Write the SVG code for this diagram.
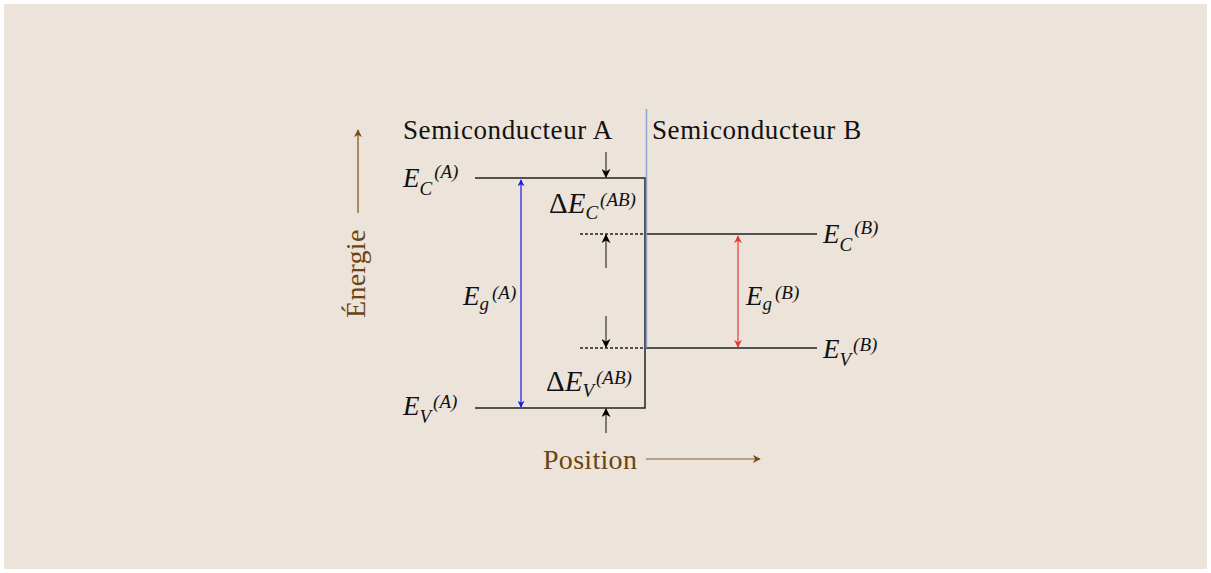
<svg xmlns="http://www.w3.org/2000/svg" width="1211" height="573" viewBox="0 0 1211 573">
<defs>
<marker id="ak" viewBox="0 0 10 10" refX="9" refY="5" markerWidth="9" markerHeight="9" orient="auto" markerUnits="userSpaceOnUse"><path d="M0,0 L10,5 L0,10 L3,5 z" fill="#000"/></marker>
<marker id="ablue" viewBox="0 0 10 10" refX="9" refY="5" markerWidth="7" markerHeight="7" orient="auto-start-reverse" markerUnits="userSpaceOnUse"><path d="M0,0 L10,5 L0,10 L3,5 z" fill="#1a1ae6"/></marker>
<marker id="ared" viewBox="0 0 10 10" refX="9" refY="5" markerWidth="8" markerHeight="8" orient="auto-start-reverse" markerUnits="userSpaceOnUse"><path d="M0,0 L10,5 L0,10 L3,5 z" fill="#e61a1a"/></marker>
<marker id="abr" viewBox="0 0 10 10" refX="9" refY="5" markerWidth="8" markerHeight="8" orient="auto" markerUnits="userSpaceOnUse"><path d="M0,0 L10,5 L0,10 L3,5 z" fill="#7a4a10"/></marker>
</defs>
<style>
text{font-family:"Liberation Serif",serif;fill:#111}
.lbl{font-size:27px;letter-spacing:0.6px}
.m{font-size:27px;font-style:italic}
.d{font-size:29px}
.md{font-size:29px;font-style:italic}
.up{font-size:19px;font-style:italic}
.dn{font-size:19px;font-style:italic}
.br{fill:#6b4410;font-size:28px;letter-spacing:0.3px}
.lvl{stroke:#222;stroke-width:1.5;fill:none}
.dot{stroke:#222;stroke-width:1.3;stroke-dasharray:3 2}
.pk{stroke:#333;stroke-width:1.2;marker-end:url(#ak)}
</style>
<rect x="0" y="0" width="1211" height="573" fill="#fff"/>
<rect x="4" y="4" width="1203" height="565" fill="#ece3da"/>
<g id="connectors">
<polyline class="lvl" points="475,178 645,178 645,408 475,408"/>
<line class="lvl" x1="646" y1="234" x2="817" y2="234"/>
<line class="lvl" x1="646" y1="348" x2="817" y2="348"/>
<line class="dot" x1="580" y1="234" x2="645" y2="234"/>
<line class="dot" x1="580" y1="348" x2="645" y2="348"/>
<line x1="646.5" y1="109" x2="646.5" y2="348" stroke="#7b9bd0" stroke-width="1.5" opacity="0.85"/>
<line x1="521" y1="180" x2="521" y2="407" stroke="#1a1ae6" stroke-width="1.2" marker-start="url(#ablue)" marker-end="url(#ablue)"/>
<line x1="738" y1="236" x2="738" y2="347" stroke="#e61a1a" stroke-width="1.2" opacity="0.85" marker-start="url(#ared)" marker-end="url(#ared)"/>
<line class="pk" x1="606" y1="152" x2="606" y2="177"/>
<line class="pk" x1="606" y1="268" x2="606" y2="235"/>
<line class="pk" x1="606" y1="316" x2="606" y2="347"/>
<line class="pk" x1="606" y1="433" x2="606" y2="409"/>
<line x1="358" y1="213" x2="358" y2="130" stroke="#8a5a20" stroke-width="1.3" marker-end="url(#abr)"/>
<line x1="646" y1="459" x2="760" y2="459" stroke="#a8896a" stroke-width="1.3" marker-end="url(#abr)"/>
</g>
<g id="semiA"><text class="lbl" x="403" y="139">Semiconducteur A</text></g>
<g id="semiB"><text class="lbl" x="652" y="139">Semiconducteur B</text></g>
<g id="ECA"><text x="403" y="187"><tspan class="m">E</tspan><tspan class="dn" dy="8">C</tspan><tspan class="up" dx="2" dy="-17">(A)</tspan></text></g>
<g id="dEC"><text x="549" y="213"><tspan class="d">Δ</tspan><tspan class="md">E</tspan><tspan class="dn" dy="6">C</tspan><tspan class="up" dx="2" dy="-13">(AB)</tspan></text></g>
<g id="ECB"><text x="823" y="243"><tspan class="m">E</tspan><tspan class="dn" dy="8">C</tspan><tspan class="up" dx="2" dy="-17">(B)</tspan></text></g>
<g id="EgA"><text x="463" y="305"><tspan class="m">E</tspan><tspan class="dn" dy="5">g</tspan><tspan class="up" dx="3" dy="-11">(A)</tspan></text></g>
<g id="EgB"><text x="746" y="305"><tspan class="m">E</tspan><tspan class="dn" dy="5">g</tspan><tspan class="up" dx="3" dy="-11">(B)</tspan></text></g>
<g id="EVB"><text x="823" y="358"><tspan class="m">E</tspan><tspan class="dn" dy="8">V</tspan><tspan class="up" dx="2" dy="-15">(B)</tspan></text></g>
<g id="dEV"><text x="546" y="391"><tspan class="d">Δ</tspan><tspan class="md">E</tspan><tspan class="dn" dy="6">V</tspan><tspan class="up" dx="2" dy="-13">(AB)</tspan></text></g>
<g id="EVA"><text x="403" y="415"><tspan class="m">E</tspan><tspan class="dn" dy="8">V</tspan><tspan class="up" dx="2" dy="-15">(A)</tspan></text></g>
<g id="position"><text class="br" x="543" y="469">Position</text></g>
<g id="energie"><text class="br" x="0" y="0" transform="translate(365,318) rotate(-90)">Énergie</text></g>
</svg>
